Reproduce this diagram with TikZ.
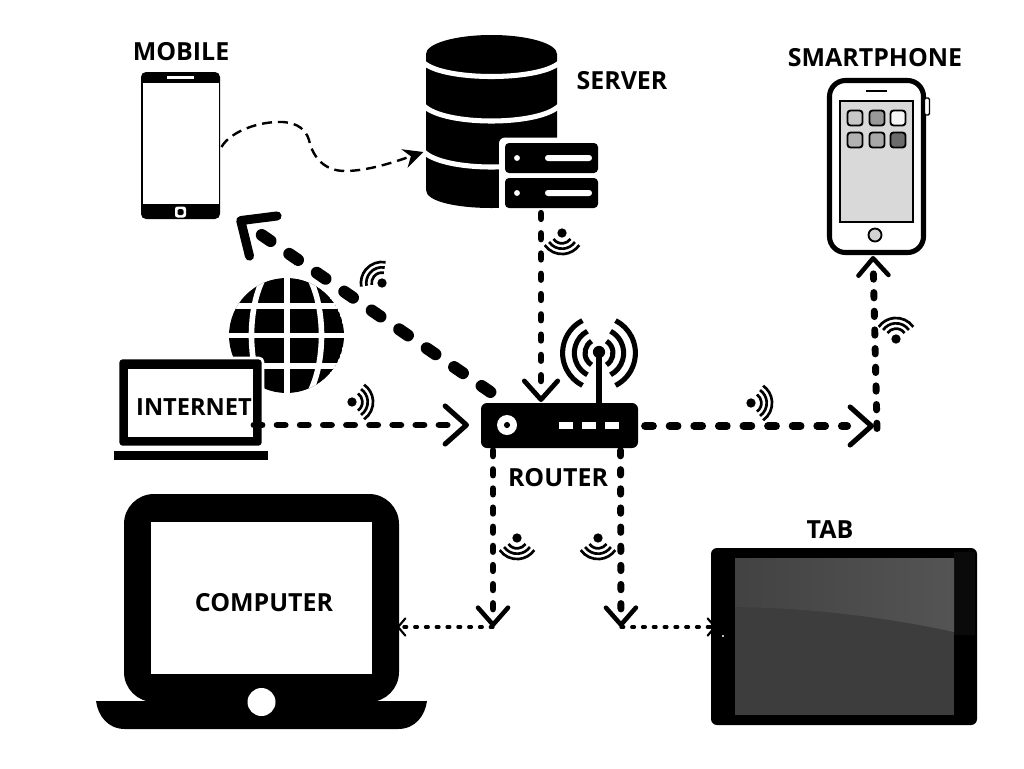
\documentclass[tikz,border=0pt]{standalone}
\usepackage{fontspec}
\setmainfont{Open Sans}
\usetikzlibrary{arrows.meta,calc}
\def\u{0.75pt}
\tikzset{
  x=0.75pt,y=-0.75pt,
  solidbox/.style={fill=black,draw=none,inner sep=0pt,outer sep=0pt},
  whitebox/.style={fill=white,draw=none,inner sep=0pt,outer sep=0pt},
  lbl/.style={font=\bfseries\fontsize{18.7pt}{20pt}\selectfont,inner sep=0pt,text=black},
  bigdash/.style={line width=9pt,line cap=round,dash pattern=on 8pt off 17pt on 8pt off 17pt on 8pt off 17pt on 8pt off 17pt on 8pt off 17pt on 8pt off 17pt on 8pt off 17pt on 8pt off 17pt on 8pt off 300pt},
  laptopdash/.style={line width=5.2pt,line cap=round,dash pattern=on 6pt off 11.35pt on 6pt off 11.35pt on 6pt off 11.35pt on 6pt off 11.35pt on 6pt off 11.35pt on 6pt off 11.35pt on 6pt off 11.35pt on 6pt off 11.35pt on 6pt off 300pt},
  rightdash/.style={line width=5.8pt,line cap=round,dash pattern=on 6pt off 12.45pt on 6pt off 12.45pt on 6pt off 12.45pt on 6pt off 12.45pt on 6pt off 12.45pt on 6pt off 12.45pt on 6pt off 12.45pt on 6pt off 12.45pt on 4pt off 300pt},
  serverdash/.style={line width=5.2pt,line cap=round,dash pattern=on 4pt off 11.2pt on 4pt off 11.2pt on 4pt off 11.2pt on 4pt off 11.2pt on 4pt off 11.2pt on 4pt off 11.2pt on 4pt off 11.2pt on 4pt off 11.2pt on 4pt off 300pt},
  downdash/.style={line width=5.2pt,line cap=round,dash pattern=on 4pt off 10.35pt on 4pt off 10.35pt on 4pt off 10.35pt on 4pt off 10.35pt on 4pt off 10.35pt on 4pt off 10.35pt on 4pt off 10.35pt on 4pt off 10.35pt on 4pt off 300pt},
  phonedash/.style={line width=5.2pt,line cap=round,dash pattern=on 4pt off 10pt on 4pt off 10pt on 4pt off 10pt on 4pt off 10pt on 4pt off 10pt on 4pt off 10pt on 4pt off 10pt on 4pt off 10pt on 4pt off 300pt},
  thindash/.style={line width=2.5pt,line cap=round,dash pattern=on 2pt off 6.1pt},
  curvedash/.style={line width=1.8pt,dash pattern=on 7.5pt off 4.5pt},
  tipbig/.style={-{Straight Barb[length=20.5pt,width=36.5pt,line width=6.8pt,round]}},
  tipmid/.style={-{Straight Barb[length=16pt,width=28.5pt,line width=3.8pt,round]}},
  tipvert/.style={-{Straight Barb[length=14pt,width=25pt,line width=3.6pt,round]}},
  tiplow/.style={-{Straight Barb[length=12.8pt,width=22.5pt,line width=3.4pt,round]}},
  tiptiny/.style={-{Straight Barb[length=5.5pt,width=13pt,line width=1.6pt,round]}},
  wifiarc/.style={line width=2pt,line cap=butt},
}
\newcommand{\wifisign}[3]{%
  \begin{scope}[shift={(#1,#2)},rotate=#3]
    \fill (0,0) circle[radius=3.5pt];
    \foreach \rr in {7.8pt,11.8pt,15.8pt}
      \draw[wifiarc] (35:\rr) arc[start angle=35,end angle=145,radius=\rr];
  \end{scope}}
\begin{document}
\begin{tikzpicture}
\useasboundingbox (0,0) rectangle (1024,768);
\fill[white] (0,0) rectangle (1024,768);

% ---------- device bodies
% mobile
\node[solidbox,rounded corners=5*\u,minimum width=79*\u,minimum height=147*\u] (mobile) at (180.5,145.5) {};
\node[whitebox,minimum width=76*\u,minimum height=121*\u] (mobilescreen) at (181,143.5) {};
\node[whitebox,minimum width=27*\u,minimum height=3*\u] (mobilespeaker) at (180.5,77.5) {};
\node[whitebox,rounded corners=2.5*\u,minimum width=11*\u,minimum height=11*\u] (mobilekey) at (180.5,212) {};
\node[solidbox,rounded corners=1.5*\u,minimum width=6*\u,minimum height=6*\u] (mobilekeyin) at (180.5,212) {};

% server cylinder
\fill (426,54) -- (426,190) .. controls (426,214) and (557,214) .. (557,190) -- (557,54) -- cycle;
\fill (491.5,54) circle[x radius=65.5,y radius=19];
\draw[white,line width=3.8pt] (424,63) .. controls (445,81) and (538,81) .. (559,63);
\draw[white,line width=3.8pt] (424,106) .. controls (445,126) and (538,126) .. (559,106);
\draw[white,line width=3.8pt] (424,152) .. controls (445,172) and (538,172) .. (559,152);
\node[whitebox,rounded corners=6*\u,minimum width=106*\u,minimum height=76*\u] (srvhalo) at (552,175.5) {};
\node[solidbox,rounded corners=4*\u,minimum width=93*\u,minimum height=30*\u] (srvA) at (551.5,158) {};
\node[solidbox,rounded corners=4*\u,minimum width=93*\u,minimum height=30*\u] (srvB) at (551.5,193) {};
\foreach \nn/\yy in {A/158,B/193}{
  \fill[white] (517,\yy) circle[radius=2.2pt];
  \node[whitebox,rounded corners=2.2pt,minimum width=47*\u,minimum height=6*\u] (srvbar\nn) at (568.5,\yy) {};
}

% smartphone
\node[draw=black,fill=white,line width=3.8pt,rounded corners=16*\u,inner sep=0pt,minimum width=94*\u,minimum height=172*\u] (phone) at (876.5,166.5) {};
\node[draw=black,fill=white,line width=1pt,rounded corners=1pt,inner sep=0pt,minimum width=5*\u,minimum height=17*\u] (phonebtn) at (927,106.5) {};
\draw[line width=1.5pt] (866,91) -- (887,91);
\node[draw=black,fill=black!15,line width=1.2pt,inner sep=0pt,minimum width=73*\u,minimum height=121*\u] (phonescreen) at (876.5,161.5) {};
\foreach \nn/\xx/\yy/\gg in {a/855/118/78,b/877/118/60,c/898/118/97,d/855/140/70,e/877/140/66,f/898/140/42}{
  \node[draw=black,fill=black!\the\numexpr100-\gg\relax,line width=1.4pt,rounded corners=3*\u,inner sep=0pt,minimum width=15*\u,minimum height=15*\u] (icon\nn) at (\xx,\yy) {};
}
\node[circle,draw=black,fill=black!18,line width=1.4pt,inner sep=0pt,minimum size=13*\u] (phonekey) at (875,235) {};

% globe
\begin{scope}
  \clip (286.5,335.5) circle[radius=43.1pt];
  \fill (286.5,335.5) circle[radius=43.1pt];
  \draw[white,line width=4.2pt] (287,270) -- (287,400);
  \draw[white,line width=4.2pt] (225,306) -- (350,306) (225,335.5) -- (350,335.5) (225,366) -- (350,366);
  \draw[white,line width=4.2pt] (286.5,335.5) circle[x radius=35,y radius=76];
\end{scope}

% small laptop
\node[solidbox,draw=white,line width=2pt,rounded corners=4*\u,minimum width=145*\u,minimum height=89*\u] (laptop) at (190.5,402.5) {};
\node[whitebox,minimum width=125*\u,minimum height=68*\u] (laptopscreen) at (190.5,403) {};
\node[solidbox,minimum width=154*\u,minimum height=9*\u] (laptopbase) at (191,455.5) {};

% computer
\node[solidbox,rounded corners=30*\u,minimum width=275*\u,minimum height=208*\u] (computer) at (261.5,598) {};
\node[whitebox,minimum width=221*\u,minimum height=152*\u] (computerscreen) at (261.5,598) {};
\fill (96,701) -- (427,701) .. controls (425,716) and (415,729) .. (398,729) -- (125,729) .. controls (108,729) and (98,716) .. (96,701) -- cycle;
\fill[white] (261.5,702) circle[radius=10.5pt];

% tab
\node[solidbox,rounded corners=6*\u,minimum width=266*\u,minimum height=177*\u] (tab) at (844,636.5) {};
\fill[white!4!black] (954,552) rectangle (975,635);
\node[solidbox,fill=white!24!black,minimum width=219*\u,minimum height=157*\u] (tabscreen) at (844.5,636.5) {};
\shade[left color=white!26!black,right color=white!33!black] (735,558) -- (954,558) -- (954,632) .. controls (900,620) and (820,608) .. (735,607) -- cycle;
\fill[white] (723,636) circle[radius=0.9pt];

% router
\node[solidbox,rounded corners=6*\u,minimum width=157*\u,minimum height=45*\u] (router) at (559.5,425.5) {};
\fill[white] (507,425) circle[radius=7.5pt];
\fill (507,425) circle[radius=2.3pt];
\foreach \nn/\xx in {a/566,b/589,c/612}{
  \node[whitebox,minimum width=14*\u,minimum height=7*\u] (led\nn) at (\xx,425.5) {};
}
\draw[line width=3.8pt] (router.north -| 599,0) -- (599,352);
\fill (599,352) circle[radius=4.6pt];
\begin{scope}[shift={(599,353)}]
  \foreach \rr/\aa in {27.3pt/63,18.5pt/62,10.5pt/58}{
    \draw[line width=3.8pt] (-\aa:\rr) arc[start angle=-\aa,end angle=\aa,radius=\rr];
    \draw[line width=3.8pt] (180-\aa:\rr) arc[start angle=180-\aa,end angle=180+\aa,radius=\rr];
  }
\end{scope}

% ---------- labels
\node[lbl] (lmobile) at (181,52) {MOBILE};
\node[lbl] (lserver) at (622,81) {SERVER};
\node[lbl] (lsmart) at (875,58) {SMARTPHONE};
\node[lbl,font=\bfseries\fontsize{17.7pt}{20pt}\selectfont] (linternet) at (194,407) {INTERNET};
\node[lbl] (lrouter) at (558,478) {ROUTER};
\node[lbl] (ltab) at (830,530) {TAB};
\node[lbl] (lcomputer) at (264,603) {COMPUTER};

% ---------- connector ends
\coordinate (mobiletip) at (237,218);
\coordinate (rightstop) at (874,426);
\coordinate (phonejunction) at (877,428.5);
\coordinate (phonetip) at (873,256);
\coordinate (routerleft) at (469,425);
\coordinate (servertip) at (541,402);
\coordinate (downL) at (493,627);
\coordinate (downR) at (621,627);
\coordinate (compin) at (397,627);
\coordinate (tabin) at (716,627);
\coordinate (curveend) at (423.5,152);

% ---------- connectors
\draw[curvedash,-{Stealth[length=15pt,width=14.5pt,inset=5pt]}] ($(mobile.east)+(1.5,1.5)$)
  .. controls (230,132) and (258,121) .. (283,122)
  .. controls (298,123) and (306,130) .. (309,140)
  .. controls (313,158) and (325,171) .. (345,171)
  .. controls (370,171) and (400,160) .. (curveend);
\draw[bigdash,tipbig] ($(router.north west)+(9.4,-11)$) -- (mobiletip);
\draw[laptopdash,tipmid] ($(laptop.east)+(-9,22.5)$) -- (routerleft);
\draw[serverdash,tipvert] ($(srvB.south)+(-10.5,5.3)$) -- (servertip);
\draw[rightdash,tipmid] ($(router.east)+(7,0.5)$) -- (rightstop);
\draw[phonedash,tiplow] (phonejunction) -- (phonetip);
\draw[downdash,tiplow] ($(router.south west)+(12,2.5)$) -- (downL);
\draw[downdash,tiplow] ($(router.south east)+(-17.5,2.5)$) -- (downR);
\draw[thindash,tiptiny] (downL) -- (compin);
\draw[thindash,tiptiny] (downR) -- (tabin);

% ---------- wifi signs
\wifisign{562}{233}{180}
\wifisign{382}{283}{45}
\wifisign{352}{402}{-90}
\wifisign{751}{403}{-90}
\wifisign{896}{339}{0}
\wifisign{517}{538}{180}
\wifisign{598}{538}{180}
\end{tikzpicture}
\end{document}
